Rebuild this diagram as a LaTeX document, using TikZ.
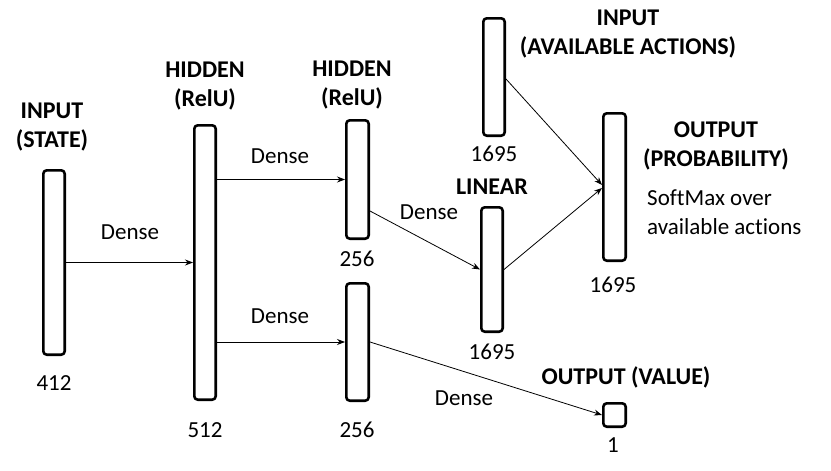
\documentclass[tikz,border=0pt]{standalone}
\usepackage{fontspec}
\setmainfont{Carlito}[Ligatures=NoCommon]
\usetikzlibrary{arrows.meta}
\begin{document}
\begin{tikzpicture}[x=1pt,y=-1pt,
  layer/.style={draw=black,line width=2.6pt,rounded corners=3.5pt,fill=white,inner sep=0pt},
  conn/.style={line width=0.8pt,-{Stealth[length=8pt,width=6pt]}},
  lbl/.style={font=\fontsize{23}{29}\selectfont,inner sep=0pt,align=center},
  ttl/.style={font=\fontsize{24}{29}\selectfont\bfseries,inner sep=0pt,align=center}]
\useasboundingbox (0,0) rectangle (831,471);
% layers
\node[layer,minimum width=21.4pt,minimum height=184.4pt] (inp) at (54,262.5) {};
\node[layer,minimum width=21.4pt,minimum height=274.4pt] (h1) at (205,262.5) {};
\node[layer,minimum width=22.4pt,minimum height=118.4pt] (h2a) at (357.5,179.5) {};
\node[layer,minimum width=22.4pt,minimum height=117.4pt] (h2b) at (357.5,342) {};
\node[layer,minimum width=21.4pt,minimum height=117.4pt] (act) at (494,77) {};
\node[layer,minimum width=21.4pt,minimum height=124.4pt] (lin) at (492,269.5) {};
\node[layer,minimum width=22.4pt,minimum height=147.4pt] (prob) at (614.5,187) {};
\node[layer,minimum width=22.4pt,minimum height=23.4pt] (val) at (614.5,415) {};
% connectors
\draw[conn] (inp.east) -- (h1.west);
\draw[conn] (h1.east |- h2a.west) -- (h2a.west);
\draw[conn] (h1.east |- h2b.west) -- (h2b.west);
\draw[conn] ([yshift=-31.5pt]h2a.east) -- (lin.west);
\draw[conn] (h2b.east) -- (val.west);
\draw[conn] ([yshift=-2pt]act.east) -- ([yshift=2pt]prob.west);
\draw[conn] (lin.east) -- ([yshift=-1pt]prob.west);
% labels
\node[ttl] (tInp) at (52,127) {INPUT\\(STATE)};
\node[lbl] (d1) at (130,232) {Dense};
\node[lbl] (n412) at (54,383) {412};
\node[ttl] (tH1) at (205,86) {HIDDEN\\(RelU)};
\node[lbl] (n512) at (205,430) {512};
\node[lbl] (d2) at (280,156) {Dense};
\node[lbl] (d3) at (280,316) {Dense};
\node[ttl] (tH2) at (352,85) {HIDDEN\\(RelU)};
\node[lbl] (n256a) at (357,259) {256};
\node[lbl] (n256b) at (357,430) {256};
\node[lbl] (d4) at (429,212) {Dense};
\node[lbl] (d5) at (464,398) {Dense};
\node[lbl] (n1695a) at (494,154) {1695};
\node[ttl] (tLin) at (492,187) {LINEAR};
\node[lbl] (n1695b) at (492,352) {1695};
\node[ttl] (tAct) at (628,34) {INPUT\\(AVAILABLE ACTIONS)};
\node[ttl] (tProb) at (716,146) {OUTPUT\\(PROBABILITY)};
\node[lbl,align=left,anchor=west] (soft) at (647,212) {SoftMax over\\available actions};
\node[lbl] (n1695c) at (613,285) {1695};
\node[ttl] (tVal) at (626,377) {OUTPUT (VALUE)};
\node[lbl] (n1) at (613,445) {1};
\end{tikzpicture}
\end{document}
